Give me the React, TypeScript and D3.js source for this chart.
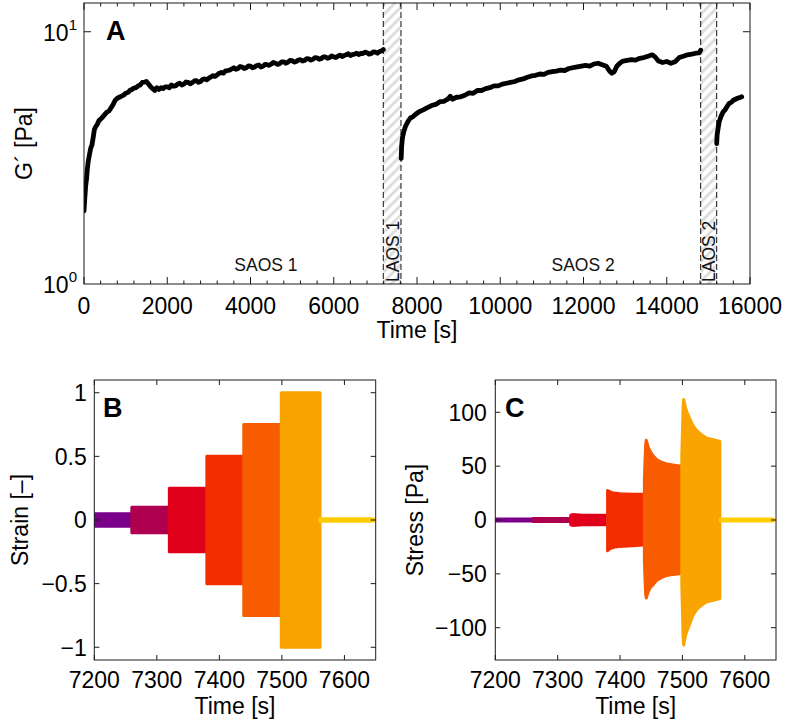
import React from "react";
import * as d3 from "d3";

const W = 786;
const H = 722;
const FONT = "'Liberation Sans', Arial, Helvetica, sans-serif";

// ---------- Panel A : G' vs time ----------
const saos1: [number, number][] = [
  [0, 1.95], [20, 2.2], [40, 2.45], [60, 2.6], [80, 2.85], [100, 3.05], [130, 3.25], [160, 3.45],
  [190, 3.55], [220, 3.8], [250, 4.1], [280, 4.2], [320, 4.3], [360, 4.45], [400, 4.5], [450, 4.6],
  [500, 4.7], [550, 4.8], [600, 4.85], [650, 5.0], [700, 5.15], [750, 5.35], [800, 5.45], [850, 5.5],
  [900, 5.55], [960, 5.62], [1000, 5.7], [1060, 5.75], [1100, 5.85], [1150, 5.9], [1200, 5.98],
  [1250, 6.0], [1300, 6.1], [1350, 6.15], [1400, 6.3], [1450, 6.32], [1500, 6.35], [1550, 6.2],
  [1600, 6.05], [1650, 5.95], [1700, 5.85], [1750, 6.0], [1800, 5.9], [1850, 6.0], [1900, 5.95],
  [1950, 6.05], [2000, 6.05], [2050, 6.0], [2100, 6.15], [2150, 6.08], [2200, 6.1], [2250, 6.2],
  [2300, 6.25], [2350, 6.15], [2400, 6.2], [2450, 6.32], [2500, 6.3], [2550, 6.22], [2600, 6.28],
  [2650, 6.38], [2700, 6.4], [2750, 6.3], [2800, 6.35], [2850, 6.48], [2900, 6.5], [2950, 6.45],
  [3000, 6.55], [3050, 6.62], [3100, 6.7], [3150, 6.65], [3200, 6.75], [3250, 6.85], [3300, 6.9],
  [3350, 6.85], [3400, 7.0], [3450, 7.02], [3500, 7.05], [3550, 7.12], [3600, 7.2], [3650, 7.1],
  [3700, 7.15], [3750, 7.28], [3800, 7.25], [3850, 7.15], [3900, 7.2], [3950, 7.32], [4000, 7.3],
  [4050, 7.2], [4100, 7.25], [4150, 7.35], [4200, 7.38], [4250, 7.25], [4300, 7.3], [4350, 7.42],
  [4400, 7.4], [4450, 7.36], [4500, 7.45], [4550, 7.55], [4600, 7.5], [4650, 7.42], [4700, 7.48],
  [4750, 7.6], [4800, 7.6], [4850, 7.5], [4900, 7.58], [4950, 7.7], [5000, 7.68], [5050, 7.58],
  [5100, 7.62], [5150, 7.72], [5200, 7.75], [5250, 7.65], [5300, 7.7], [5350, 7.82], [5400, 7.8],
  [5450, 7.72], [5500, 7.78], [5550, 7.9], [5600, 7.88], [5650, 7.78], [5700, 7.82], [5750, 7.95],
  [5800, 7.95], [5850, 7.85], [5900, 7.9], [5950, 8.02], [6000, 7.95], [6050, 7.9], [6100, 8.0],
  [6150, 8.08], [6200, 7.98], [6250, 8.05], [6300, 8.1], [6350, 8.18], [6400, 8.05], [6450, 8.12],
  [6500, 8.15], [6550, 8.22], [6600, 8.12], [6650, 8.2], [6700, 8.2], [6750, 8.3], [6800, 8.25],
  [6850, 8.15], [6900, 8.2], [6950, 8.32], [7000, 8.3], [7050, 8.22], [7100, 8.35], [7150, 8.4],
  [7190, 8.5],
];
const saos2: [number, number][] = [
  [7620, 3.15], [7630, 3.5], [7650, 3.8], [7680, 4.0], [7720, 4.2], [7780, 4.4], [7840, 4.55],
  [7900, 4.6], [7960, 4.7], [8050, 4.82], [8150, 4.9], [8250, 5.0], [8350, 5.1], [8450, 5.15],
  [8550, 5.28], [8650, 5.3], [8750, 5.42], [8800, 5.55], [8850, 5.4], [8950, 5.5], [9050, 5.52],
  [9150, 5.6], [9250, 5.72], [9350, 5.7], [9450, 5.85], [9550, 5.85], [9650, 5.95], [9750, 6.0],
  [9850, 6.1], [9950, 6.1], [10050, 6.2], [10150, 6.25], [10250, 6.3], [10350, 6.35], [10450, 6.45],
  [10550, 6.5], [10650, 6.6], [10750, 6.68], [10850, 6.72], [10950, 6.8], [11050, 6.78], [11150, 6.9],
  [11250, 6.95], [11350, 6.98], [11450, 7.05], [11550, 7.02], [11650, 7.15], [11750, 7.2],
  [11850, 7.25], [11950, 7.3], [12050, 7.35], [12150, 7.3], [12250, 7.45], [12350, 7.5],
  [12450, 7.4], [12550, 7.3], [12620, 7.0], [12680, 6.85], [12740, 6.95], [12800, 7.3], [12870, 7.5],
  [12950, 7.65], [13050, 7.7], [13150, 7.75], [13250, 7.72], [13350, 7.85], [13450, 7.9], [13550, 8.0],
  [13650, 8.1], [13720, 7.95], [13800, 7.65], [13900, 7.55], [14000, 7.62], [14100, 7.5], [14200, 7.6],
  [14300, 7.9], [14400, 8.0], [14500, 8.1], [14600, 8.15], [14700, 8.22], [14780, 8.25], [14815, 8.45],
];
const saos3: [number, number][] = [
  [15200, 3.6], [15210, 3.9], [15230, 4.1], [15260, 4.4], [15300, 4.6], [15350, 4.8], [15400, 4.9],
  [15450, 5.05], [15500, 5.2], [15550, 5.25], [15600, 5.35], [15650, 5.4], [15700, 5.45],
  [15750, 5.48], [15800, 5.52],
];
const laosStart = [7190, 14815];
const laosEnd = [7615, 15200];
const laosNames = ["LAOS 1", "LAOS 2"];
const saosNames = ["SAOS 1", "SAOS 2"];
const saosNameTimes = [4370, 11990];
const aXTicks = [0, 2000, 4000, 6000, 8000, 10000, 12000, 14000, 16000];
const aYTicks = [1, 10];
const aYExps = ["0", "1"];

// ---------- Panel B / C : LAOS steps ----------
const stepStarts = [7200, 7260, 7320, 7380, 7439, 7499];
const stepEnds = [7260, 7320, 7380, 7439, 7499, 7561];
const strainAmps = [0.05, 0.1, 0.25, 0.5, 0.75, 1.0];
const stepColors = ["#7a008a", "#ae004f", "#e1001c", "#f42d00", "#f85c00", "#f9a400"];
const afterStart = 7562;
const afterEnd = 7650;
const afterColor = "#ffcc00";

// stress envelopes per step: [time, upper, lower]
const stress1: [number, number, number][] = [[7200, 1, -1], [7260, 1, -1]];
const stress2: [number, number, number][] = [[7260, 1.3, -1.3], [7320, 1.3, -1.3]];
const stress3: [number, number, number][] = [[7321, 4.5, -4.5], [7324, 5, -5], [7340, 4.5, -4.5], [7379, 4.3, -4.3]];
const stress4: [number, number, number][] = [
  [7380, 27.5, -28.5], [7384, 26, -26.5], [7390, 25, -25.3], [7400, 24.3, -24.5], [7420, 24, -23.8], [7438, 23.8, -23.3],
];
const stress5: [number, number, number][] = [
  [7439, 38, -38], [7441, 70, -69], [7442, 74, -72.5], [7445, 68, -67], [7448, 64, -63], [7453, 59.5, -60],
  [7459, 56, -56], [7465, 54, -54], [7470, 53, -52.5], [7475, 52, -51.5], [7485, 51, -50.5], [7498, 50, -49.8],
];
const stress6: [number, number, number][] = [
  [7499, 60, -60], [7501, 104, -108], [7502, 112, -116], [7505, 104, -107], [7508, 99, -102], [7512, 94, -96],
  [7517, 87.5, -88.5], [7523, 83, -83], [7530, 79.5, -79.5], [7539, 76, -76], [7550, 74.5, -74.5], [7560, 73, -73],
];
const stressSteps = [stress1, stress2, stress3, stress4, stress5, stress6];

const bYTicks = [-1, -0.5, 0, 0.5, 1];
const cYTicks = [-100, -50, 0, 50, 100];
const bcXTicks = [7200, 7300, 7400, 7500, 7600];

function fmt(v: number): string {
  const s = String(Math.abs(v));
  return v < 0 ? "\u2212" + s : s;
}

type Box = { x0: number; x1: number; y0: number; y1: number };

function FrameTicks({ box, xt, yt, len, minorX, minorLen }: { box: Box; xt: number[]; yt: number[]; len: number; minorX?: number[]; minorLen?: number }) {
  const { x0, x1, y0, y1 } = box;
  const els: React.ReactNode[] = [];
  xt.forEach((x, i) => {
    els.push(<line key={"xb" + i} x1={x} x2={x} y1={y1} y2={y1 - len} />);
    els.push(<line key={"xt" + i} x1={x} x2={x} y1={y0} y2={y0 + len} />);
  });
  (minorX || []).forEach((x, i) => {
    els.push(<line key={"mb" + i} x1={x} x2={x} y1={y1} y2={y1 - (minorLen || 3)} />);
    els.push(<line key={"mt" + i} x1={x} x2={x} y1={y0} y2={y0 + (minorLen || 3)} />);
  });
  yt.forEach((y, i) => {
    els.push(<line key={"yl" + i} x1={x0} x2={x0 + len} y1={y} y2={y} />);
    els.push(<line key={"yr" + i} x1={x1} x2={x1 - len} y1={y} y2={y} />);
  });
  return (
    <g stroke="#1a1a1a" strokeWidth={1} fill="none">
      {els}
      <rect x={x0} y={y0} width={x1 - x0} height={y1 - y0} />
    </g>
  );
}

export default function App() {
  // Panel A scales
  const boxA: Box = { x0: 84, x1: 750, y0: 3, y1: 284 };
  const xA = d3.scaleLinear().domain([0, 16000]).range([boxA.x0, boxA.x1]);
  const yA = d3.scaleLog().domain([1, 13]).range([boxA.y1, boxA.y0]);
  const lineA = d3.line<[number, number]>().x((d) => xA(d[0])).y((d) => yA(d[1]));
  const minorA = d3.range(0, 16001, 400).filter((v) => v % 2000 !== 0);

  // Panel B
  const boxB: Box = { x0: 94.3, x1: 375.7, y0: 380, y1: 660 };
  const xB = d3.scaleLinear().domain([7200, 7650]).range([boxB.x0, boxB.x1]);
  const yB = d3.scaleLinear().domain([-1.1, 1.1]).range([boxB.y1, boxB.y0]);

  // Panel C
  const boxC: Box = { x0: 495.3, x1: 776, y0: 380, y1: 660 };
  const xC = d3.scaleLinear().domain([7200, 7650]).range([boxC.x0, boxC.x1]);
  const yC = d3.scaleLinear().domain([-130, 130]).range([boxC.y1, boxC.y0]);
  const areaC = d3
    .area<[number, number, number]>()
    .x((d) => xC(d[0]))
    .y0((d) => yC(d[2]))
    .y1((d) => yC(d[1]));
  const areaB = d3
    .area<{ t: number; a: number }>()
    .x((d) => xB(d.t))
    .y0((d) => yB(-d.a))
    .y1((d) => yB(d.a));

  const tickFont = 23;

  return (
    <svg width={W} height={H} style={{ position: "absolute", left: 0, top: 0, background: "#fff" }} fontFamily={FONT}>
      <defs>
        <pattern id="hatch" patternUnits="userSpaceOnUse" width={7} height={7} patternTransform="rotate(45)">
          <rect x={0} y={0} width={7} height={7} fill="#ffffff" />
          <rect x={0} y={0} width={3} height={7} fill="#dedede" />
        </pattern>
        <clipPath id="clipA">
          <rect x={boxA.x0} y={boxA.y0} width={boxA.x1 - boxA.x0} height={boxA.y1 - boxA.y0} />
        </clipPath>
        <clipPath id="clipB">
          <rect x={boxB.x0} y={boxB.y0} width={boxB.x1 - boxB.x0} height={boxB.y1 - boxB.y0} />
        </clipPath>
        <clipPath id="clipC">
          <rect x={boxC.x0} y={boxC.y0} width={boxC.x1 - boxC.x0} height={boxC.y1 - boxC.y0} />
        </clipPath>
      </defs>
      <rect x={0} y={0} width={W} height={H} fill="#fff" />

      {/* ---------- Panel A ---------- */}
      {laosStart.map((s, i) => (
        <g key={"laos" + i}>
          <rect x={xA(s)} y={boxA.y0} width={xA(laosEnd[i]) - xA(s)} height={boxA.y1 - boxA.y0} fill="url(#hatch)" />
          <line x1={xA(s)} x2={xA(s)} y1={boxA.y0} y2={boxA.y1} stroke="#111" strokeWidth={1} strokeDasharray="6,3" />
          <line x1={xA(laosEnd[i])} x2={xA(laosEnd[i])} y1={boxA.y0} y2={boxA.y1} stroke="#111" strokeWidth={1} strokeDasharray="6,3" />
          <text
            transform={`translate(${xA(laosEnd[i]) - 1.5},${boxA.y1 - 2}) rotate(-90)`}
            fontSize={17.5}
            fill="#111"
          >
            {laosNames[i]}
          </text>
        </g>
      ))}
      <g clipPath="url(#clipA)" fill="none" stroke="#000" strokeWidth={4.8} strokeLinejoin="round" strokeLinecap="round">
        <path d={lineA(saos1) || ""} />
        <path d={lineA(saos2) || ""} />
        <path d={lineA(saos3) || ""} />
      </g>
      {saosNames.map((n, i) => (
        <text key={n} x={xA(saosNameTimes[i])} y={271} fontSize={17.5} textAnchor="middle" fill="#111">
          {n}
        </text>
      ))}
      <FrameTicks
        box={boxA}
        xt={aXTicks.map((v) => xA(v))}
        yt={[yA(10)]}
        len={7}
        minorX={minorA.map((v) => xA(v))}
        minorLen={3.5}
      />
      {aXTicks.map((v) => (
        <text key={"ax" + v} x={xA(v)} y={314} fontSize={tickFont} textAnchor="middle">
          {String(v)}
        </text>
      ))}
      {aYTicks.map((v, i) => (
        <text key={"ay" + v} x={77} y={yA(v) + 9} fontSize={tickFont} textAnchor="end">
          10
          <tspan dy={-11} fontSize={15}>
            {aYExps[i]}
          </tspan>
        </text>
      ))}
      <text x={(boxA.x0 + boxA.x1) / 2} y={338} fontSize={tickFont} textAnchor="middle">
        Time [s]
      </text>
      <text transform={`translate(32,${(boxA.y0 + boxA.y1) / 2}) rotate(-90)`} fontSize={tickFont} textAnchor="middle">
        {"G\u00B4 [Pa]"}
      </text>
      <text x={106} y={40} fontSize={27} fontWeight="bold">
        A
      </text>

      {/* ---------- Panel B ---------- */}
      <g clipPath="url(#clipB)">
        {stepStarts.map((s, i) => (
          <path
            key={"sb" + i}
            d={areaB([{ t: s, a: strainAmps[i] }, { t: stepEnds[i], a: strainAmps[i] }]) || ""}
            fill={stepColors[i]}
            stroke={stepColors[i]}
            strokeWidth={3}
            strokeLinejoin="round"
          />
        ))}
        <line
          x1={xB(afterStart)}
          x2={xB(afterEnd) - 3}
          y1={yB(0)}
          y2={yB(0)}
          stroke={afterColor}
          strokeWidth={5.5}
          strokeLinecap="round"
        />
      </g>
      <FrameTicks box={boxB} xt={bcXTicks.map((v) => xB(v))} yt={bYTicks.map((v) => yB(v))} len={5} />
      {bcXTicks.map((v) => (
        <text key={"bx" + v} x={xB(v)} y={688} fontSize={tickFont} textAnchor="middle">
          {String(v)}
        </text>
      ))}
      {bYTicks.map((v) => (
        <text key={"by" + v} x={boxB.x0 - 7.5} y={yB(v) + 8.3} fontSize={tickFont} textAnchor="end">
          {fmt(v)}
        </text>
      ))}
      <text x={(boxB.x0 + boxB.x1) / 2} y={714} fontSize={tickFont} textAnchor="middle">
        Time [s]
      </text>
      <text transform={`translate(28,${(boxB.y0 + boxB.y1) / 2}) rotate(-90)`} fontSize={tickFont} textAnchor="middle">
        {"Strain [\u2013]"}
      </text>
      <text x={103} y={417} fontSize={27} fontWeight="bold">
        B
      </text>

      {/* ---------- Panel C ---------- */}
      <g clipPath="url(#clipC)">
        {stressSteps.map((st, i) => (
          <path
            key={"sc" + i}
            d={areaC(st) || ""}
            fill={stepColors[i]}
            stroke={stepColors[i]}
            strokeWidth={3}
            strokeLinejoin="round"
          />
        ))}
        <line
          x1={xC(afterStart)}
          x2={xC(afterEnd) - 3}
          y1={yC(0)}
          y2={yC(0)}
          stroke={afterColor}
          strokeWidth={5}
          strokeLinecap="round"
        />
      </g>
      <FrameTicks box={boxC} xt={bcXTicks.map((v) => xC(v))} yt={cYTicks.map((v) => yC(v))} len={5} />
      {bcXTicks.map((v) => (
        <text key={"cx" + v} x={xC(v)} y={688} fontSize={tickFont} textAnchor="middle">
          {String(v)}
        </text>
      ))}
      {cYTicks.map((v) => (
        <text key={"cy" + v} x={boxC.x0 - 8.5} y={yC(v) + 8.3} fontSize={tickFont} textAnchor="end">
          {fmt(v)}
        </text>
      ))}
      <text x={(boxC.x0 + boxC.x1) / 2} y={714} fontSize={tickFont} textAnchor="middle">
        Time [s]
      </text>
      <text transform={`translate(423,${(boxC.y0 + boxC.y1) / 2}) rotate(-90)`} fontSize={tickFont} textAnchor="middle">
        Stress [Pa]
      </text>
      <text x={505} y={417} fontSize={27} fontWeight="bold">
        C
      </text>
    </svg>
  );
}
